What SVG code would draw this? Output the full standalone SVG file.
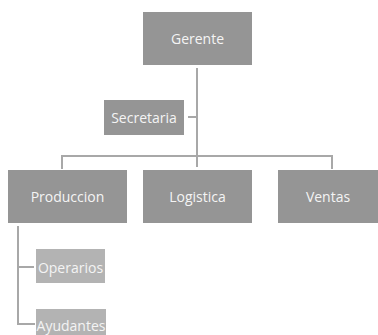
<svg xmlns="http://www.w3.org/2000/svg" width="378" height="335" viewBox="0 0 378 335">
<style>
.main{fill:#959595}
.sub{fill:#b3b3b3}
.t{font-family:"Open Sans","Liberation Sans",sans-serif;font-size:14px;fill:#f4f4f4;text-anchor:middle;dominant-baseline:central}
.c{stroke:#a8a8a8;stroke-width:2;fill:none}
</style>
<rect width="378" height="335" fill="#ffffff"/>
<g id="connectors">
<path class="c" d="M197 68V167"/>
<path class="c" d="M188 117H197"/>
<path class="c" d="M62 169V156H332V169"/>
<path class="c" d="M18 226V324H35"/>
<path class="c" d="M18 267H34"/>
</g>
<g id="gerente"><rect class="main" x="143" y="12" width="109" height="53"/><text class="t" x="197.5" y="38">Gerente</text></g>
<g id="secretaria"><rect class="main" x="104" y="100" width="80" height="35"/><text class="t" x="144" y="117">Secretaria</text></g>
<g id="produccion"><rect class="main" x="8" y="170" width="119" height="53"/><text class="t" x="67.5" y="196">Produccion</text></g>
<g id="logistica"><rect class="main" x="143" y="170" width="109" height="53"/><text class="t" x="197.5" y="196">Logistica</text></g>
<g id="ventas"><rect class="main" x="278" y="170" width="100" height="53"/><text class="t" x="328" y="196">Ventas</text></g>
<g id="operarios"><rect class="sub" x="36" y="249" width="69" height="34"/><text class="t" x="70.5" y="267">Operarios</text></g>
<g id="ayudantes"><rect class="sub" x="36" y="309" width="70" height="30"/><text class="t" x="71" y="325">Ayudantes</text></g>
</svg>
